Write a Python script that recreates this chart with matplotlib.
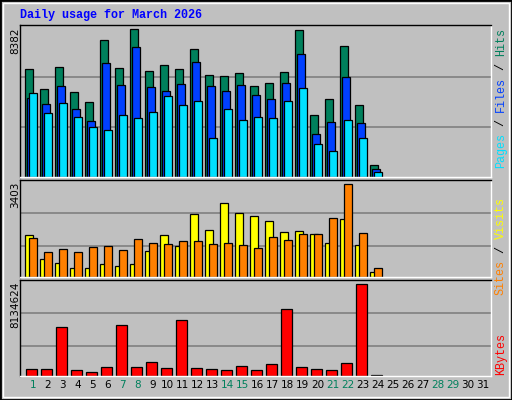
import numpy as np
import matplotlib.pyplot as plt
from matplotlib.patches import Rectangle

days = np.arange(1, 25)
hits = [6105, 4968, 6220, 4798, 4229, 7756, 6163, 8382, 5993, 6334, 6106, 7244,
        5765, 5708, 5879, 5139, 5310, 5936, 8325, 3546, 4400, 7415, 4058, 702]
files = [4456, 4115, 5139, 3887, 3205, 6448, 5196, 7358, 5082, 4855, 5253, 6505,
         5139, 4855, 5196, 4627, 4400, 5310, 6960, 2465, 3148, 5651, 3091, 474]
pages = [4741, 3660, 4172, 3432, 2864, 2693, 3546, 3376, 3717, 4570, 4058, 4286,
         2238, 3887, 3262, 3432, 3376, 4286, 5025, 1896, 1498, 3262, 2238, 303]
visits = [1524, 676, 528, 344, 344, 492, 418, 492, 934, 1524, 1118, 2298,
          1708, 2704, 2335, 2224, 2040, 1634, 1671, 1561, 1229, 2113, 1155, 197]
sites = [1413, 897, 1007, 897, 1081, 1118, 971, 1376, 1229, 1192, 1302, 1302,
         1192, 1229, 1155, 1044, 1450, 1339, 1561, 1561, 2150, 3403, 1597, 344]
kbytes = [653000, 653000, 4305000, 564000, 386000, 831000, 4483000, 831000,
          1277000, 742000, 4928000, 742000, 653000, 564000, 920000, 564000,
          1098000, 5908000, 831000, 653000, 564000, 1188000, 8134624, 119000]
weekend = [1, 7, 8, 14, 15, 21, 22, 28, 29]

W, H = 512, 400
bg = '#c0c0c0'
fig = plt.figure(figsize=(W / 100, H / 100), dpi=100, facecolor=bg)
mono = 'Liberation Mono'

def axes_px(x0, y0, x1, y1):
    return fig.add_axes([x0 / W, 1 - y1 / H, (x1 - x0) / W, (y1 - y0) / H])

xl = (0.5 - 5.3 / 15, 0.5 - 5.3 / 15 + 471 / 15)
px = 1 / 15.0

def style(ax, top, fracs):
    ax.set_facecolor(bg)
    ax.set_xlim(*xl)
    ax.set_ylim(0, top)
    for f in fracs:
        ax.axhline(f * top, color='#808080', lw=1.2, zorder=0)
    ax.set_xticks([])
    ax.set_yticks([])
    for s in ax.spines.values():
        s.set_color('black')
        s.set_linewidth(1)
    ax.spines['bottom'].set_color('white')
    ax.spines['right'].set_color('white')

kw = dict(edgecolor='black', linewidth=0.9, align='edge')

# top panel
ax1 = axes_px(20, 25, 491, 177)
style(ax1, 8382 * 152 / 147.7, [0.327, 0.66])
ax1.bar(days - 0.5, hits, width=7.3 * px, color='#00805c', **kw)
ax1.bar(days - 0.5 + 2 * px, files, width=7.3 * px, color='#0040ff', **kw)
ax1.bar(days - 0.5 + 4 * px, pages, width=7.3 * px, color='#00e0ff', **kw)

# middle panel
ax2 = axes_px(20, 180, 491, 277)
style(ax2, 3403 * 96.3 / 92.3, [0.316, 0.657])
ax2.bar(days - 0.5, visits, width=8 * px, color='#ffff00', **kw)
ax2.bar(days - 0.5 + 4 * px, sites, width=7.4 * px, color='#ff8000', **kw)

# bottom panel
ax3 = axes_px(20, 280, 491, 376)
style(ax3, 8134624 * 95.3 / 91.3, [0.309, 0.656])
ax3.bar(days - 0.5 + 1 * px, kbytes, width=10.3 * px, color='#ff0000', **kw)

for d in range(1, 32):
    ax3.text(d, -0.04, str(d), transform=ax3.get_xaxis_transform(), ha='center',
             va='top', fontsize=7.5, family='DejaVu Sans',
             color='#00805c' if d in weekend else 'black')

fig.text(20 / W, 1 - 15 / H, 'Daily usage for March 2026', color='#0000ff',
         family=mono, weight='bold', fontsize=8.5, va='center')

for y, lab in [(27, '8382'), (182, '3403'), (282, '8134624')]:
    fig.text(15 / W, 1 - y / H, lab, rotation=90, ha='center', va='top',
             fontsize=7.5, family='DejaVu Sans')

def side(parts, ytop):
    y = ytop
    for txt, col in parts:
        fig.text(501 / W, 1 - y / H, txt, rotation=90, ha='center', va='top',
                 fontsize=8.5, family=mono, color=col)
        y += len(txt) * 7.0

side([('Hits', '#00805c'), (' / ', '#000000'), ('Files', '#0040ff'),
      (' / ', '#000000'), ('Pages', '#00e0ff')], 28)
side([('Visits', '#ffff00'), (' / ', '#000000'), ('Sites', '#ff8000')], 197)
side([('KBytes', '#ff0000')], 333)

# outer bevelled border
fig.patches.append(Rectangle((0, 0), 1, 1, transform=fig.transFigure, fill=False,
                             edgecolor='black', lw=2))
fig.patches.append(Rectangle((3 / W, 3 / H), 1 - 6 / W, 1 - 6 / H,
                             transform=fig.transFigure, fill=False,
                             edgecolor='white', lw=1))

fig.savefig('out.png', dpi=100, facecolor=bg)
